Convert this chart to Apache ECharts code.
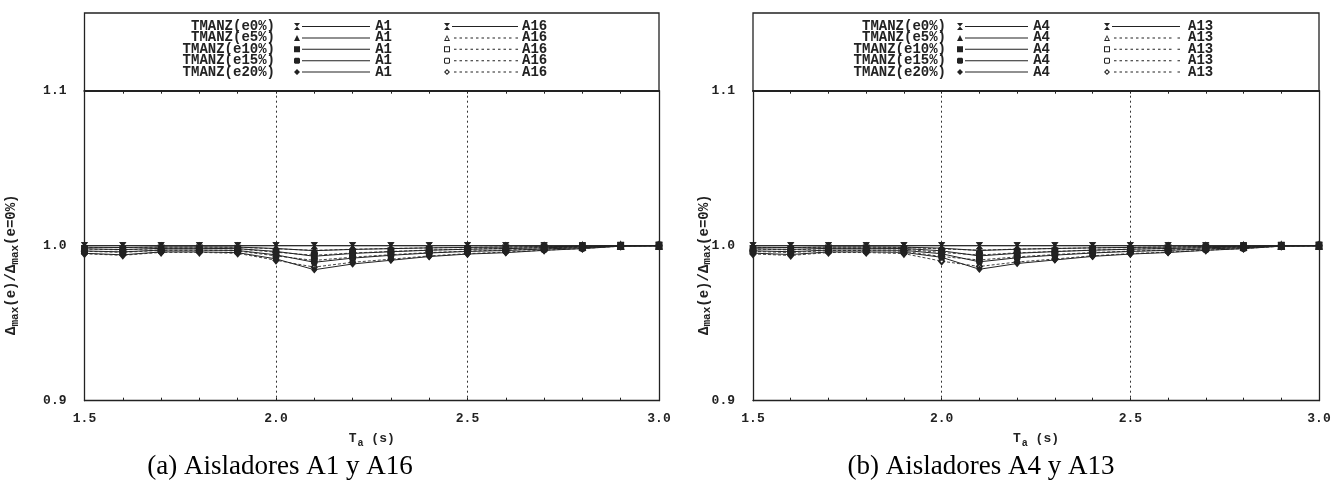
<!DOCTYPE html>
<html><head><meta charset="utf-8">
<script src="https://cdn.jsdelivr.net/npm/echarts@6/dist/echarts.min.js"></script>
<style>html,body{margin:0;padding:0;background:#fff}#c{width:1333px;height:486px}</style>
</head><body><div id="c"></div>
<script>
// ---------------- data ----------------
const periods = [1.5, 1.6, 1.7, 1.8, 1.9, 2.0, 2.1, 2.2, 2.3, 2.4, 2.5, 2.6, 2.7, 2.8, 2.9, 3.0];
const eccLabels = ['e0%', 'e5%', 'e10%', 'e15%', 'e20%'];
const xTickLabels = ['1.5', '2.0', '2.5', '3.0'];
const yTickLabels = ['0.9', '1.0', '1.1'];

// panel (a): isolators A1 (solid) and A16 (dashed)
const A1_e0  = [1, 1, 1, 1, 1, 1, 1, 1, 1, 1, 1, 1, 1, 1, 1, 1];
const A1_e5  = [0.9990, 0.9988, 0.9992, 0.9992, 0.9991, 0.9982, 0.9968, 0.9976, 0.9981, 0.9986, 0.9989, 0.9991, 0.9994, 0.9996, 1.0000, 1.0000];
const A1_e10 = [0.9980, 0.9975, 0.9983, 0.9983, 0.9981, 0.9963, 0.9932, 0.9950, 0.9961, 0.9971, 0.9977, 0.9981, 0.9987, 0.9992, 0.9999, 1.0000];
const A1_e15 = [0.9966, 0.9960, 0.9972, 0.9972, 0.9969, 0.9941, 0.9893, 0.9920, 0.9938, 0.9953, 0.9963, 0.9969, 0.9979, 0.9987, 0.9998, 1.0000];
const A1_e20 = [0.9951, 0.9941, 0.9960, 0.9960, 0.9955, 0.9915, 0.9845, 0.9882, 0.9906, 0.9930, 0.9946, 0.9955, 0.9970, 0.9981, 0.9997, 1.0000];
const A16_e0  = [1, 1, 1, 1, 1, 1, 1, 1, 1, 1, 1, 1, 1, 1, 1, 1];
const A16_e5  = [0.9989, 0.9987, 0.9991, 0.9991, 0.9990, 0.9980, 0.9970, 0.9977, 0.9982, 0.9986, 0.9989, 0.9992, 0.9994, 0.9996, 1.0000, 1.0000];
const A16_e10 = [0.9978, 0.9973, 0.9981, 0.9981, 0.9979, 0.9958, 0.9938, 0.9953, 0.9963, 0.9972, 0.9978, 0.9983, 0.9988, 0.9992, 0.9999, 1.0000];
const A16_e15 = [0.9964, 0.9957, 0.9970, 0.9970, 0.9966, 0.9934, 0.9905, 0.9926, 0.9942, 0.9956, 0.9965, 0.9972, 0.9980, 0.9987, 0.9998, 1.0000];
const A16_e20 = [0.9948, 0.9938, 0.9957, 0.9957, 0.9951, 0.9906, 0.9862, 0.9893, 0.9913, 0.9934, 0.9949, 0.9959, 0.9971, 0.9982, 0.9997, 1.0000];

// panel (b): isolators A4 (solid) and A13 (dashed)
const A4_e0  = [1, 1, 1, 1, 1, 1, 1, 1, 1, 1, 1, 1, 1, 1, 1, 1];
const A4_e5  = [0.9990, 0.9988, 0.9992, 0.9992, 0.9991, 0.9984, 0.9969, 0.9977, 0.9982, 0.9986, 0.9989, 0.9991, 0.9994, 0.9996, 1.0000, 1.0000];
const A4_e10 = [0.9980, 0.9976, 0.9983, 0.9983, 0.9982, 0.9967, 0.9934, 0.9951, 0.9962, 0.9971, 0.9977, 0.9982, 0.9987, 0.9992, 0.9999, 1.0000];
const A4_e15 = [0.9967, 0.9961, 0.9972, 0.9972, 0.9970, 0.9948, 0.9896, 0.9922, 0.9939, 0.9953, 0.9963, 0.9970, 0.9979, 0.9987, 0.9998, 1.0000];
const A4_e20 = [0.9952, 0.9943, 0.9960, 0.9960, 0.9957, 0.9925, 0.9848, 0.9885, 0.9908, 0.9931, 0.9946, 0.9956, 0.9970, 0.9981, 0.9997, 1.0000];
const A13_e0  = [1, 1, 1, 1, 1, 1, 1, 1, 1, 1, 1, 1, 1, 1, 1, 1];
const A13_e5  = [0.9989, 0.9987, 0.9991, 0.9991, 0.9989, 0.9979, 0.9971, 0.9978, 0.9982, 0.9986, 0.9989, 0.9992, 0.9994, 0.9996, 1.0000, 1.0000];
const A13_e10 = [0.9978, 0.9973, 0.9981, 0.9981, 0.9978, 0.9956, 0.9940, 0.9954, 0.9963, 0.9972, 0.9978, 0.9983, 0.9988, 0.9992, 0.9999, 1.0000];
const A13_e15 = [0.9963, 0.9956, 0.9969, 0.9969, 0.9964, 0.9930, 0.9908, 0.9928, 0.9943, 0.9956, 0.9965, 0.9972, 0.9980, 0.9987, 0.9998, 1.0000];
const A13_e20 = [0.9947, 0.9937, 0.9956, 0.9956, 0.9949, 0.9900, 0.9866, 0.9895, 0.9914, 0.9935, 0.9949, 0.9959, 0.9971, 0.9982, 0.9997, 1.0000];

const captions = ['(a) Aisladores A1 y A16', '(b) Aisladores A4 y A13'];
const yName = '{a|Δ}{s|max}{a|(e)/Δ}{s|max}{a|(e=0%)}';
const xName = '{a|T}{s|a}{a| (s)}';

// ---------------- styling / layout ----------------
const INK = '#222';
const MONO = 'Liberation Mono';
const panels = [
  { solid: 'A1', dashed: 'A16', solidData: [A1_e0, A1_e5, A1_e10, A1_e15, A1_e20], dashedData: [A16_e0, A16_e5, A16_e10, A16_e15, A16_e20],
    left: 84.5, right: 659, yNameGap: 64, captionX: 280,
    lg1: { right: 370, W: 76, pad: 14 }, lg2: { right: 518, W: 74, pad: 47 }, lg3: { left: 516 } },
  { solid: 'A4', dashed: 'A13', solidData: [A4_e0, A4_e5, A4_e10, A4_e15, A4_e20], dashedData: [A13_e0, A13_e5, A13_e10, A13_e15, A13_e20],
    left: 753, right: 1319, yNameGap: 40, captionX: 981,
    lg1: { right: 1028, W: 71, pad: 6 }, lg2: { right: 1180, W: 76, pad: 49 }, lg3: { left: 1182 } }
];
const TOP = 13, LINE11 = 90.7, BOTTOM = 400.7, WID = 1333;

const hourglass = 'M0,0L6,0L3,3.5ZM3,3.5L6,7L0,7Z';
const markerFilled = [
  hourglass,
  'M3,0.5L6,6.5L0,6.5Z',
  'M0,0.5L6,0.5L6,6.5L0,6.5Z',
  'M1,0.5L5,0.5L6,1.5L6,5.5L5,6.5L1,6.5L0,5.5L0,1.5Z',
  'M3,0.5L6,3.5L3,6.5L0,3.5Z'
];
const markerHollow = [
  hourglass,
  'M3,0.5L6,6.5L0,6.5ZM3,2.3L1.5,5.5L4.5,5.5Z',
  'M0,0.5L6,0.5L6,6.5L0,6.5ZM1,1.5L1,5.5L5,5.5L5,1.5Z',
  'M1,0.5L5,0.5L6,1.5L6,5.5L5,6.5L1,6.5L0,5.5L0,1.5ZM1.5,1.5L1,2L1,5L1.5,5.5L4.5,5.5L5,5L5,2L4.5,1.5Z',
  'M3,0.5L6,3.5L3,6.5L0,3.5ZM3,2L1.5,3.5L3,5L4.5,3.5Z'
];
const dataSymbolFilled = ['path://' + hourglass, 'triangle', 'rect', 'roundRect', 'diamond'];
const dataSymbolHollow = ['path://' + hourglass, 'emptyTriangle', 'emptyRect', 'emptyRoundRect', 'emptyDiamond'];

function legendIcon(k, hollow, W) {
  let p = hollow ? markerHollow[k] : markerFilled[k];
  const dashed = hollow && k > 0;
  if (!dashed) {
    p += 'M8,3L' + W + ',3L' + W + ',4L8,4Z';
  } else {
    let x = 10;
    while (x + 2.5 < W - 3) { p += 'M' + x + ',3L' + (x + 2.5) + ',3L' + (x + 2.5) + ',4L' + x + ',4Z'; x += 5.5; }
    p += 'M' + (W - 2.5) + ',3L' + W + ',3L' + W + ',4L' + (W - 2.5) + ',4Z';
  }
  return 'path://' + p;
}

const grids = [], xAxes = [], yAxes = [], series = [], legends = [], titles = [], graphics = [];
const tickFont = { fontFamily: MONO, fontWeight: 'bold', fontSize: 13, color: INK };
const LG_TOP = 19.5, LG_GAP = -2.6;

panels.forEach((P, pi) => {
  grids.push({ left: P.left, width: P.right - P.left, top: LINE11, height: BOTTOM - LINE11, outerBoundsMode: 'none' });
  const gi = pi;
  xAxes.push({
    gridIndex: gi, type: 'value', position: 'bottom', min: 1.5, max: 3.0, interval: 0.5,
    axisLine: { show: true, lineStyle: { color: INK, width: 1.3 } },
    axisTick: { show: true, inside: true, length: 3, lineStyle: { color: INK } },
    minorTick: { show: true, splitNumber: 5, length: 3, lineStyle: { color: INK } },
    splitLine: { show: true, lineStyle: { type: [2, 3], color: '#333', width: 1 } },
    axisLabel: { ...tickFont, margin: 12, formatter: v => xTickLabels.find(t => Math.abs(parseFloat(t) - v) < 1e-6) || '' },
    name: xName, nameLocation: 'middle', nameGap: 29, nameMoveOverlap: false,
    nameTextStyle: { color: INK, rich: { a: { fontFamily: MONO, fontWeight: 'bold', fontSize: 13, color: INK }, s: { fontFamily: MONO, fontWeight: 'bold', fontSize: 10, color: INK, padding: [9, 0, 0, 1] } } }
  });
  xAxes.push({
    gridIndex: gi, type: 'value', position: 'top', min: 1.5, max: 3.0, interval: 0.5,
    axisLine: { show: true, lineStyle: { color: INK, width: 2.2 } },
    axisTick: { show: true, inside: true, length: 3, lineStyle: { color: INK } },
    minorTick: { show: true, splitNumber: 5, length: 3, lineStyle: { color: INK } },
    splitLine: { show: false }, axisLabel: { show: false }
  });
  yAxes.push({
    gridIndex: gi, type: 'value', position: 'left', min: 0.9, max: 1.1, interval: 0.1,
    axisLine: { show: true, lineStyle: { color: INK, width: 1.3 } },
    axisTick: { show: false }, splitLine: { show: false },
    axisLabel: { ...tickFont, margin: 18, formatter: v => yTickLabels.find(t => Math.abs(parseFloat(t) - v) < 1e-6) || '' },
    name: yName, nameLocation: 'middle', nameRotate: 90, nameGap: P.yNameGap, nameMoveOverlap: false,
    nameTextStyle: { color: INK, padding: [0, 38, 0, 0], rich: { a: { fontFamily: MONO, fontWeight: 'bold', fontSize: 14, color: INK }, s: { fontFamily: MONO, fontWeight: 'bold', fontSize: 11, color: INK, padding: [7, 0, 0, 0] } } }
  });
  yAxes.push({
    gridIndex: gi, type: 'value', position: 'right', min: 0.9, max: 1.1, interval: 0.1,
    axisLine: { show: true, lineStyle: { color: INK, width: 1.3 } },
    axisTick: { show: false }, splitLine: { show: false }, axisLabel: { show: false }
  });
  const xi = pi * 2, yi = pi * 2;

  const mk = (label, values, k, hollow) => ({
    type: 'line', name: 'TMANZ(' + eccLabels[k] + ') ' + label,
    xAxisIndex: xi, yAxisIndex: yi,
    data: periods.map((p, i) => [p, values[i]]),
    symbol: hollow ? dataSymbolHollow[k] : dataSymbolFilled[k],
    symbolSize: [5, 6],
    lineStyle: { color: hollow ? '#444' : INK, width: 1, type: (hollow && k > 0) ? [3, 2] : 'solid' },
    itemStyle: { color: INK, borderColor: INK, borderWidth: 1 },
    z: hollow ? 2 : 3, animation: false
  });
  const dashedNames = [], solidNames = [];
  P.dashedData.forEach((v, k) => { const s = mk(P.dashed, v, k, true); series.push(s); dashedNames.push(s.name); });
  P.solidData.forEach((v, k) => { const s = mk(P.solid, v, k, false); series.push(s); solidNames.push(s.name); });

  const lgText = (pad) => ({ fontFamily: MONO, fontWeight: 'bold', fontSize: 14, color: INK, padding: pad });
  const lgItem = { color: INK, borderColor: INK, borderWidth: 0, opacity: 1 };
  legends.push({
    orient: 'vertical', align: 'right', right: WID - P.lg1.right, top: LG_TOP, padding: 0, itemGap: LG_GAP,
    itemWidth: P.lg1.W, itemHeight: 7, selectedMode: false, symbolKeepAspect: true,
    data: solidNames.map((n, k) => ({ name: n, icon: legendIcon(k, false, P.lg1.W), itemStyle: lgItem })),
    formatter: n => n.split(' ')[0], textStyle: lgText([0, P.lg1.pad, 0, 0])
  });
  legends.push({
    orient: 'vertical', align: 'right', right: WID - P.lg2.right, top: LG_TOP, padding: 0, itemGap: LG_GAP,
    itemWidth: P.lg2.W, itemHeight: 7, selectedMode: false, symbolKeepAspect: true,
    data: dashedNames.map((n, k) => ({ name: n, icon: legendIcon(k, true, P.lg2.W), itemStyle: lgItem })),
    formatter: () => P.solid, textStyle: lgText([0, P.lg2.pad, 0, 0])
  });
  legends.push({
    orient: 'vertical', align: 'left', left: P.lg3.left, top: LG_TOP, padding: 0, itemGap: LG_GAP,
    itemWidth: 1, itemHeight: 7, selectedMode: false,
    data: dashedNames.map(n => ({ name: n, icon: 'rect', itemStyle: { color: 'rgba(0,0,0,0)', borderWidth: 0 } })),
    formatter: n => n.split(' ')[1], textStyle: lgText([0, 0, 0, 0])
  });
  graphics.push({ type: 'rect', shape: { x: P.left, y: TOP, width: P.right - P.left, height: LINE11 - TOP }, style: { fill: 'none', stroke: INK, lineWidth: 1.3 }, silent: true });
  titles.push({ text: captions[pi], left: P.captionX, top: 453, textAlign: 'center', padding: 0,
    textStyle: { fontFamily: 'Liberation Serif', fontSize: 27, fontWeight: 'normal', color: '#000' } });
});

const chart = echarts.init(document.getElementById('c'), null, { renderer: 'canvas' });
chart.setOption({
  backgroundColor: '#fff', animation: false,
  title: titles, grid: grids, xAxis: xAxes, yAxis: yAxes, series: series, legend: legends, graphic: graphics
});
</script></body></html>
